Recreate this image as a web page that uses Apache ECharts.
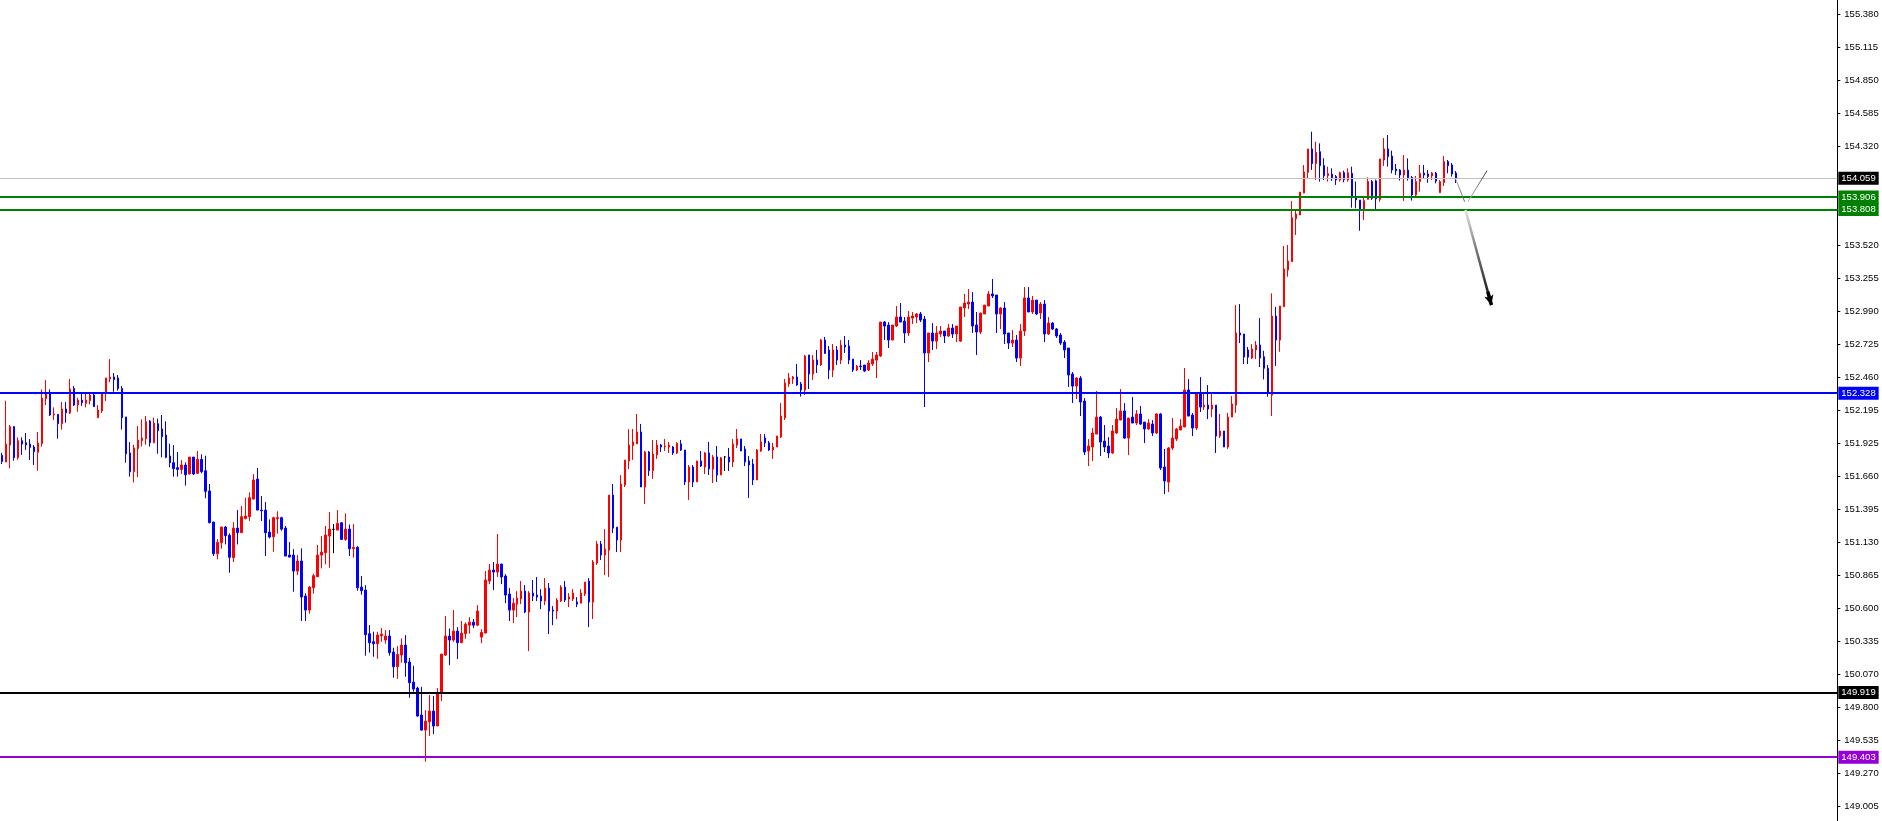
<!DOCTYPE html>
<html>
<head>
<meta charset="utf-8">
<script src="https://cdn.jsdelivr.net/npm/echarts@6/dist/echarts.min.js"></script>
<style>
html,body{margin:0;padding:0;background:#fff;}
#chart{width:1882px;height:821px;}
</style>
</head>
<body>
<div id="chart"></div>
<script>
// ---- candle values ----
const open = [
151.83,151.776,151.913,152.061,151.811,151.948,151.932,151.921,151.897,151.854,
151.924,152.286,152.329,152.155,152.160,152.085,152.203,152.171,152.369,152.235,
152.275,152.249,152.270,152.316,152.133,152.187,152.329,152.445,152.461,152.453,
152.369,152.139,151.849,151.698,151.884,151.948,151.964,152.106,151.932,152.085,
152.042,151.994,151.825,151.771,151.731,151.717,151.752,151.680,151.816,151.685,
151.798,151.706,151.543,151.293,151.038,151.127,151.253,151.186,151.006,151.244,
151.207,151.322,151.336,151.478,151.639,151.389,151.389,151.212,151.175,151.320,
151.328,151.244,151.027,151.027,150.898,150.979,150.697,150.584,150.764,150.853,
151.027,151.046,151.180,151.234,151.228,151.287,151.153,151.236,151.078,151.089,
150.769,150.745,150.394,150.329,150.313,150.378,150.343,150.375,150.246,150.128,
150.222,150.302,150.166,150.004,149.956,149.739,149.618,149.685,149.771,149.651,
149.924,150.222,150.375,150.343,150.415,150.321,150.394,150.463,150.487,150.463,
150.367,150.399,150.818,150.906,150.890,150.955,150.858,150.713,150.584,150.632,
150.673,150.737,150.568,150.721,150.705,150.697,150.657,150.761,150.584,150.576,
150.657,150.769,150.673,150.673,150.649,150.640,150.713,150.818,150.649,150.963,
151.116,151.027,151.067,151.510,151.252,151.148,151.591,151.784,151.908,151.922,
152.018,151.575,151.857,151.707,151.833,151.913,151.900,151.897,151.897,151.849,
151.922,151.873,151.616,151.736,151.616,151.785,151.736,151.849,151.720,151.817,
151.672,151.817,151.817,151.777,151.913,151.962,151.881,151.785,151.760,151.632,
151.865,151.970,151.930,151.873,151.897,151.978,152.131,152.405,152.445,152.461,
152.405,152.356,152.638,152.485,152.598,152.558,152.758,152.678,152.517,152.678,
152.597,152.718,152.710,152.605,152.517,152.549,152.557,152.517,152.565,152.597,
152.630,152.903,152.879,152.758,152.871,152.944,152.911,152.815,152.935,152.944,
152.968,152.927,152.654,152.815,152.750,152.807,152.831,152.791,152.855,152.807,
152.750,153.016,153.048,153.064,152.879,152.823,152.968,153.032,153.129,153.121,
152.968,153.016,152.815,152.734,152.758,152.613,152.831,153.097,152.984,153.080,
152.976,153.048,152.807,152.895,152.847,152.799,152.742,152.694,152.485,152.388,
152.452,152.267,151.865,151.897,152.001,152.138,151.945,151.905,151.849,152.010,
152.114,152.187,151.969,152.138,152.090,152.163,152.098,152.042,152.082,152.010,
152.163,151.736,151.615,151.889,151.961,152.034,152.058,152.356,152.154,152.050,
152.332,152.219,152.235,152.203,152.235,151.985,152.026,151.897,152.138,152.235,
152.815,152.807,152.678,152.613,152.678,152.718,152.624,152.531,152.315,152.951,
152.758,153.026,153.322,153.389,153.735,153.765,153.942,154.109,154.297,154.179,
154.275,154.163,154.082,154.093,154.074,154.047,154.106,154.047,154.101,153.913,
153.886,153.813,153.891,154.034,154.040,153.891,154.208,154.297,154.240,154.135,
154.127,154.087,154.127,154.068,153.926,154.034,154.103,154.095,154.079,154.103,
153.945,154.026,154.195,154.168,154.103
];
const close = [
151.78,151.921,152.061,151.811,151.948,151.921,151.913,151.894,151.859,151.929,
152.291,152.329,152.155,152.163,152.085,152.203,152.173,152.364,152.235,152.275,
152.254,152.275,152.316,152.222,152.195,152.329,152.453,152.461,152.439,152.367,
152.133,151.843,151.698,151.889,151.953,151.969,152.101,151.932,152.090,152.028,
151.980,151.814,151.771,151.723,151.717,151.752,151.674,151.816,151.680,151.798,
151.698,151.540,151.288,151.038,151.129,151.253,151.183,151.009,151.244,151.207,
151.336,151.341,151.489,151.631,151.389,151.384,151.207,151.172,151.328,151.328,
151.236,151.019,151.011,150.898,150.979,150.689,150.584,150.769,150.861,151.027,
151.051,151.188,151.236,151.234,151.282,151.153,151.236,151.078,151.089,150.764,
150.740,150.386,150.321,150.313,150.383,150.391,150.375,150.241,150.128,150.227,
150.302,150.160,149.999,149.948,149.731,149.618,149.690,149.771,149.651,149.908,
150.230,150.375,150.343,150.415,150.321,150.399,150.471,150.487,150.463,150.576,
150.404,150.826,150.906,150.890,150.955,150.850,150.705,150.584,150.640,150.681,
150.737,150.568,150.721,150.697,150.689,150.657,150.761,150.576,150.576,150.665,
150.769,150.665,150.689,150.721,150.632,150.721,150.810,150.649,150.971,151.116,
151.027,151.075,151.510,151.244,151.148,151.599,151.792,151.913,151.938,152.018,
151.575,151.857,151.707,151.841,151.913,151.897,151.905,151.913,151.849,151.927,
151.873,151.616,151.736,151.616,151.785,151.744,151.849,151.720,151.817,151.672,
151.809,151.817,151.777,151.922,151.962,151.865,151.777,151.752,151.632,151.873,
151.938,151.930,151.873,151.897,151.986,152.147,152.413,152.453,152.461,152.397,
152.356,152.630,152.485,152.598,152.558,152.759,152.651,152.517,152.678,152.597,
152.718,152.702,152.597,152.517,152.549,152.544,152.509,152.573,152.605,152.638,
152.903,152.871,152.758,152.879,152.944,152.903,152.815,152.944,152.952,152.968,
152.919,152.654,152.815,152.750,152.815,152.831,152.791,152.855,152.807,152.871,
153.024,153.056,153.064,152.871,152.823,152.976,153.040,153.129,153.113,152.968,
153.016,152.807,152.734,152.758,152.613,152.831,153.097,152.984,153.080,152.968,
153.048,152.807,152.895,152.847,152.791,152.734,152.678,152.477,152.388,152.452,
152.259,151.857,151.905,152.010,152.138,151.937,151.897,151.849,152.026,152.122,
152.187,151.969,152.130,152.090,152.163,152.082,152.042,152.090,152.010,152.163,
151.728,151.623,151.889,151.969,152.042,152.066,152.356,152.146,152.050,152.332,
152.219,152.235,152.203,152.235,151.985,152.026,151.897,152.138,152.243,152.815,
152.799,152.621,152.621,152.686,152.718,152.613,152.531,152.329,152.951,152.758,
153.032,153.330,153.394,153.743,153.773,153.950,154.111,154.297,154.179,154.270,
154.163,154.082,154.098,154.066,154.047,154.106,154.050,154.106,153.905,153.886,
153.814,153.880,154.034,153.899,153.895,154.216,154.297,154.235,154.127,154.119,
154.087,154.127,154.066,153.926,154.034,154.101,154.087,154.074,154.103,154.039,
154.034,154.195,154.162,154.095,154.059
];
const low = [
151.76,151.776,151.725,151.787,151.795,151.833,151.873,151.792,151.752,151.706,
151.900,152.235,152.147,152.114,151.964,152.037,152.093,152.163,152.227,152.181,
152.227,152.216,152.240,152.222,152.133,152.171,152.267,152.418,152.342,152.351,
152.037,151.771,151.658,151.612,151.655,151.902,151.916,151.900,151.927,151.843,
151.814,151.806,151.733,151.658,151.658,151.680,151.586,151.677,151.672,151.680,
151.685,151.484,151.282,151.019,150.993,151.078,151.113,150.885,150.971,151.113,
151.207,151.314,151.301,151.475,151.389,151.301,151.019,151.161,151.054,151.199,
151.223,151.019,151.008,150.732,150.866,150.496,150.496,150.555,150.716,150.853,
150.920,150.952,150.925,151.043,151.228,151.148,151.142,151.019,151.006,150.740,
150.708,150.217,150.241,150.208,150.192,150.329,150.313,150.217,150.039,150.031,
150.160,150.047,149.878,149.927,149.725,149.613,149.363,149.570,149.586,149.651,
149.852,150.214,150.141,150.329,150.190,150.321,150.353,150.394,150.439,150.455,
150.318,150.399,150.793,150.745,150.850,150.793,150.640,150.496,150.479,150.528,
150.632,150.560,150.254,150.657,150.657,150.592,150.624,150.391,150.463,150.512,
150.649,150.649,150.608,150.657,150.608,150.640,150.697,150.447,150.512,150.947,
150.987,150.866,150.850,151.204,151.051,151.051,151.575,151.719,151.793,151.922,
151.575,151.438,151.664,151.640,151.801,151.857,151.865,151.849,151.833,151.841,
151.865,151.591,151.471,151.575,151.616,151.736,151.680,151.672,151.607,151.616,
151.672,151.704,151.704,151.736,151.889,151.865,151.744,151.487,151.591,151.632,
151.857,151.897,151.865,151.801,151.897,151.970,152.115,152.381,152.405,152.389,
152.303,152.316,152.364,152.437,152.493,152.550,152.646,152.444,152.460,152.557,
152.565,152.654,152.565,152.501,152.509,152.517,152.501,152.509,152.549,152.452,
152.622,152.758,152.694,152.758,152.863,152.903,152.734,152.791,152.887,152.895,
152.903,152.219,152.581,152.678,152.686,152.783,152.734,152.783,152.775,152.742,
152.742,152.944,153.008,152.815,152.638,152.807,152.968,153.032,153.097,152.815,
152.847,152.726,152.686,152.702,152.581,152.549,152.791,152.984,152.968,152.960,
152.927,152.742,152.799,152.839,152.775,152.718,152.613,152.380,152.251,152.283,
152.146,151.832,151.744,151.784,152.001,151.824,151.857,151.808,151.840,152.001,
152.114,151.961,151.832,152.090,152.074,152.074,151.929,152.034,151.985,152.001,
151.712,151.518,151.534,151.873,151.945,152.034,152.058,152.146,151.985,152.034,
152.179,152.195,152.122,152.138,151.849,151.969,151.897,151.881,152.138,152.171,
152.734,152.565,152.565,152.605,152.605,152.541,152.441,152.302,152.146,152.549,
152.664,153.026,153.268,153.389,153.604,153.765,153.942,154.061,154.128,154.047,
154.034,154.047,154.034,154.039,154.007,154.034,154.028,154.034,153.824,153.819,
153.638,153.724,153.891,153.886,153.811,153.872,154.160,154.154,154.101,154.087,
154.042,153.878,154.042,153.881,153.918,153.953,154.060,154.025,154.047,154.020,
153.945,153.999,154.101,154.074,154.023
];
const high = [
151.85,152.270,152.074,152.066,151.975,151.975,152.010,151.961,151.913,152.018,
152.361,152.436,152.361,152.216,152.160,152.259,152.259,152.444,152.388,152.294,
152.334,152.329,152.326,152.334,152.235,152.334,152.453,152.606,152.493,152.477,
152.388,152.139,151.937,151.916,152.066,152.120,152.147,152.114,152.133,152.125,
152.155,152.104,151.924,151.913,151.857,151.792,151.773,151.816,151.816,151.865,
151.838,151.827,151.599,151.293,151.156,151.253,151.261,151.202,151.293,151.389,
151.422,151.489,151.532,151.679,151.728,151.502,151.454,151.314,151.336,151.379,
151.336,151.261,151.132,151.075,151.027,151.081,150.719,150.777,150.877,151.108,
151.180,151.261,151.373,151.277,151.389,151.293,151.363,151.274,151.277,151.100,
150.858,150.785,150.463,150.410,150.410,150.439,150.423,150.423,150.281,150.294,
150.356,150.383,150.200,150.136,149.967,149.967,149.779,149.900,149.892,149.956,
150.230,150.536,150.436,150.584,150.447,150.496,150.485,150.528,150.512,150.624,
150.431,150.898,150.955,150.971,151.196,150.955,150.874,150.761,150.681,150.737,
150.818,150.785,150.737,150.826,150.850,150.753,150.842,150.802,150.616,150.681,
150.785,150.818,150.721,150.753,150.689,150.753,150.810,150.842,150.987,151.140,
151.140,151.236,151.510,151.599,151.252,151.671,151.792,152.041,152.042,152.163,
152.083,151.865,151.865,151.954,151.954,151.922,151.962,151.938,151.905,151.935,
151.954,151.873,151.752,151.752,151.785,151.865,151.857,151.938,151.833,151.905,
151.817,151.825,151.889,151.962,152.042,151.962,151.905,151.825,151.801,151.881,
152.002,152.002,151.946,151.930,151.986,152.252,152.445,152.493,152.469,152.566,
152.421,152.638,152.638,152.638,152.678,152.767,152.783,152.710,152.726,152.710,
152.758,152.791,152.758,152.605,152.557,152.597,152.557,152.597,152.662,152.662,
152.903,152.911,152.903,152.879,153.032,153.056,152.944,152.992,152.984,152.976,
152.984,152.952,152.815,152.895,152.871,152.871,152.831,152.887,152.887,152.871,
153.024,153.129,153.169,153.145,152.984,152.976,153.040,153.153,153.250,153.121,
153.024,153.064,152.815,152.839,152.799,152.887,153.185,153.185,153.113,153.080,
153.064,153.080,152.943,152.903,152.855,152.815,152.758,152.694,152.501,152.460,
152.468,152.291,151.961,152.050,152.348,152.146,152.074,151.977,152.074,152.211,
152.364,152.251,152.130,152.299,152.195,152.227,152.098,152.122,152.114,152.171,
152.171,151.881,151.897,152.130,152.050,152.122,152.533,152.444,152.171,152.332,
152.460,152.332,152.396,152.332,152.235,152.163,152.026,152.171,152.307,153.040,
153.048,152.807,152.702,152.726,152.750,152.935,152.672,152.557,153.134,153.026,
153.032,153.515,153.523,153.877,153.805,153.950,154.167,154.297,154.436,154.356,
154.342,154.222,154.154,154.141,154.087,154.114,154.122,154.141,154.154,154.034,
153.886,153.907,154.068,154.047,154.050,154.216,154.385,154.409,154.283,154.176,
154.135,154.248,154.221,154.079,154.079,154.168,154.168,154.127,154.111,154.111,
154.047,154.240,154.208,154.184,154.119
];

// ---- price-axis tick labels ----
const tickValues = [149.005,149.270,149.535,149.800,150.070,150.335,150.600,150.865,151.130,151.395,
  151.660,151.925,152.195,152.460,152.725,152.990,153.255,153.520,154.320,154.585,154.850,155.115,155.380];

// ---- horizontal levels with price tags ----
const levelValues = [154.059, 153.906, 153.808, 152.328, 149.919, 149.403];
const levelColors = ['#c0c0c0', '#008000', '#008000', '#0000ff', '#000000', '#9400d3'];
const tagColors   = ['#000000', '#008000', '#008000', '#0000ff', '#000000', '#9400d3'];
const levelWidths = [1, 2, 2, 2, 2, 2];

// ---- hand-drawn projection strokes (bar index, price) ----
const bidTrace  = [[363.9, 154.060], [366.2, 153.872]];
const upStroke  = [[367.0, 153.872], [371.8, 154.122]];
const downArrow = [[366.4, 153.805], [372.9, 153.040]];

const SLOT_COUNT = 460;
const slots = Array.from({length: SLOT_COUNT}, (_, i) => String(i));

const candles = open.map((o, i) => {
  const item = { value: [o, close[i], low[i], high[i]] };
  if (o === close[i]) item.itemStyle = { color: '#000', color0: '#000', borderColor: '#000', borderColor0: '#000' };
  return item;
});

const FONT = 'Liberation Sans, Arial, sans-serif';
const FONT_SIZE = 9.5;

const chart = echarts.init(document.getElementById('chart'), null, { renderer: 'canvas' });

const headStart = [
  downArrow[1][0] - (downArrow[1][0] - downArrow[0][0]) * 0.14,
  downArrow[1][1] - (downArrow[1][1] - downArrow[0][1]) * 0.14
];

chart.setOption({
  animation: false,
  backgroundColor: '#ffffff',
  grid: { left: -2.67, right: 44.67, top: 0, bottom: 0, containLabel: false },
  xAxis: [
    { type: 'category', data: slots, boundaryGap: true, show: false },
    { type: 'value', min: -0.5, max: SLOT_COUNT - 0.5, show: false }
  ],
  yAxis: {
    type: 'value', position: 'right', min: 148.886, max: 155.496,
    axisLine: { show: true, onZero: false, lineStyle: { color: '#000', width: 1 } },
    axisTick: { show: true, inside: false, length: 3, customValues: tickValues, lineStyle: { color: '#000' } },
    axisLabel: { show: true, customValues: tickValues, formatter: v => Number(v).toFixed(3),
      color: '#000', fontSize: FONT_SIZE, fontFamily: FONT, margin: 7 },
    splitLine: { show: false }
  },
  series: [
    {
      type: 'candlestick',
      data: candles,
      barWidth: 2,
      itemStyle: {
        color: '#ff0000', color0: '#0000ff',
        borderColor: '#ff0000', borderColor0: '#0000ff',
        borderColorDoji: '#000000',
        borderWidth: 1
      },
      markLine: {
        silent: true, animation: false,
        symbol: ['none', 'none'],
        label: {
          show: true, position: 'end', distance: 1,
          color: '#fff', fontSize: FONT_SIZE, fontFamily: FONT,
          padding: [1, 3, 1, 3], lineHeight: 11
        },
        data: levelValues.map((v, i) => ({
          yAxis: v,
          lineStyle: { color: levelColors[i], width: levelWidths[i], type: 'solid' },
          label: { backgroundColor: tagColors[i], formatter: v.toFixed(3) }
        }))
      }
    },
    {
      type: 'line',
      xAxisIndex: 1,
      yAxisIndex: 0,
      data: [],
      markLine: {
        silent: true, animation: false,
        symbol: ['none', 'none'],
        label: { show: false },
        data: [
          [ { coord: bidTrace[0], lineStyle: { width: 1, type: 'solid',
                color: new echarts.graphic.LinearGradient(0, 0, 0, 1, [{offset: 0, color: '#b0b0b0'}, {offset: 1, color: '#606060'}]) } },
            { coord: bidTrace[1] } ],
          [ { coord: upStroke[0], lineStyle: { width: 1, type: 'solid',
                color: new echarts.graphic.LinearGradient(0, 1, 0, 0, [{offset: 0, color: '#c8c8c8'}, {offset: 1, color: '#303030'}]) } },
            { coord: upStroke[1] } ],
          [ { coord: downArrow[0], lineStyle: { width: 2.5, type: 'solid',
                color: new echarts.graphic.LinearGradient(0, 0, 0, 1, [{offset: 0, color: '#e8e8e8'}, {offset: 0.4, color: '#808080'}, {offset: 1, color: '#000000'}]) } },
            { coord: downArrow[1] } ],
          [ { coord: headStart, lineStyle: { width: 3.5, color: '#000', type: 'solid' } },
            { coord: downArrow[1], symbol: 'arrow', symbolSize: [7, 10] } ]
        ]
      }
    }
  ]
});
</script>
</body>
</html>
